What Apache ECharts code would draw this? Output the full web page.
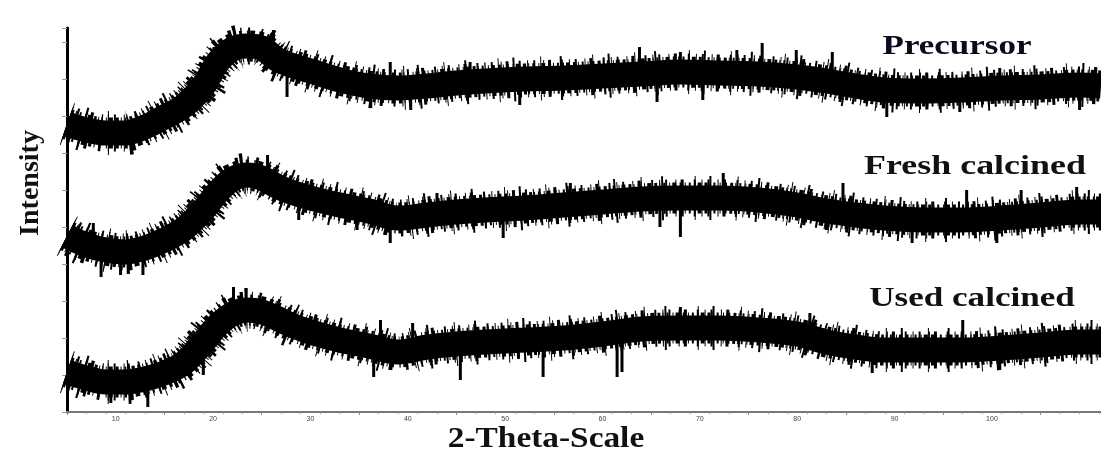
<!DOCTYPE html>
<html>
<head>
<meta charset="utf-8">
<script src="https://cdn.jsdelivr.net/npm/echarts@6/dist/echarts.min.js"></script>
<style>
  html, body { margin: 0; padding: 0; background: #fff; }
  #chart { width: 1101px; height: 455px; }
</style>
</head>
<body>
<div id="chart"></div>
<script>
const twoTheta = [5, 7, 9, 11, 13, 15, 17, 19, 20.5, 22, 23.5, 25, 26.5, 28, 30, 33, 36, 39, 42, 45, 48, 52, 56, 60, 64, 68, 72, 76, 80, 83, 86, 89, 93, 97, 101, 105, 109, 111.2];

// intensity (arbitrary units, traces stacked)
const precursor = [288, 282, 279, 279, 285, 295, 306, 326, 350, 363, 366, 364, 353, 347, 341, 332, 326, 324, 326, 329, 331, 333, 334, 336, 338, 340, 339, 338, 335, 331, 326, 322, 321, 322, 324, 325, 327, 326];
const freshCalcined = [176, 167, 162, 160, 164, 172, 183, 202, 220, 233, 237, 234, 226, 220, 214, 207, 201, 194, 197, 200, 202, 204, 207, 210, 213, 214, 214, 212, 207, 201, 197, 194, 192, 192, 194, 197, 200, 200];
const usedCalcined = [40, 34, 30, 30, 33, 39, 49, 70, 87, 98, 102, 100, 94, 87, 80, 72, 66, 60, 65, 68, 70, 72, 74, 78, 83, 84, 84, 82, 78, 70, 65, 62, 62, 62, 64, 67, 70, 70];

// visible noise spikes: [2theta, from, to]
const precursorSpikes = [
  [20.1, 342, 365], [26.2, 354, 382], [27.6, 347, 315], [36.2, 326, 304], [38.2, 324, 350],
  [40.3, 325, 302], [46.4, 330, 350], [51.5, 333, 307], [63.8, 338, 365], [65.6, 339, 310],
  [68.0, 340, 360], [70.3, 339, 312], [73.8, 339, 362], [76.4, 338, 369], [79.9, 335, 362],
  [83.6, 331, 360], [89.2, 322, 295], [96.7, 322, 300], [100.8, 324, 344], [109, 327, 302]
];
const freshSpikes = [
  [7.7, 167, 189], [8.5, 163, 135], [10.5, 160, 137], [12.8, 163, 137], [25.6, 234, 257],
  [28.8, 221, 192], [34.8, 204, 182], [38.2, 195, 169], [43.0, 198, 219], [49.8, 203, 174],
  [56.7, 207, 229], [65.9, 213, 185], [68.0, 214, 175], [72.4, 214, 239], [83.0, 201, 182],
  [84.7, 199, 229], [91.8, 193, 169], [97.4, 192, 222], [100.5, 193, 169], [103, 195, 222],
  [108.7, 200, 225]
];
const usedSpikes = [
  [9.5, 30, 9], [13.3, 33, 5], [19.0, 70, 37], [22.1, 98, 125], [36.5, 66, 35],
  [37.2, 63, 92], [40.5, 62, 89], [45.4, 68, 32], [53.9, 73, 35], [56.7, 74, 92],
  [61.5, 76, 35], [62.0, 76, 40], [68.0, 84, 105], [81.3, 76, 99], [87.7, 63, 39],
  [97.0, 62, 92], [100.8, 63, 42]
];

const xTicks = [10, 20, 30, 40, 50, 60, 70, 80, 90, 100];

const pair = (vals) => twoTheta.map((t, i) => [t, vals[i]]);

const chart = echarts.init(document.getElementById("chart"));

// solid core plus dashed wider strokes to give the noisy fringe
const layers = [
  { width: 25, dash: null },
  { width: 31, dash: [3, 2, 1, 3, 2, 4, 1, 2, 4, 3] },
  { width: 37, dash: [1, 5, 2, 8, 1, 4, 3, 10, 2, 6] },
  { width: 44, dash: [1, 14, 2, 25, 1, 19, 2, 31] },
];

const trace = (name, vals) =>
  layers.map((l, k) => ({
    name: k === 0 ? name : name + " fringe " + k,
    type: "line",
    data: pair(vals),
    smooth: 0.35,
    symbol: "none",
    silent: k > 0,
    lineStyle: { color: "#000", width: l.width, cap: "butt", type: l.dash || "solid" },
    z: 2,
  }));

const spikes = (name, list) => ({
  name: name + " spikes",
  type: "custom",
  data: list,
  silent: true,
  z: 3,
  renderItem: (params, api) => {
    const a = api.coord([api.value(0), api.value(1)]);
    const b = api.coord([api.value(0), api.value(2)]);
    return {
      type: "line",
      shape: { x1: a[0], y1: a[1], x2: b[0], y2: b[1] },
      style: { stroke: "#000", lineWidth: 3 },
    };
  },
});

const serif = "'Liberation Serif', 'DejaVu Serif', serif";

const option = {
  backgroundColor: "#fff",
  animation: false,
  grid: { left: 67, right: 0, top: 28, bottom: 43, outerBoundsMode: "none" },
  xAxis: [
    {
      type: "value",
      min: 5,
      max: 111.2,
      interval: 10,
      axisLine: { show: true, onZero: false, lineStyle: { color: "#6e6e6e", width: 2 } },
      axisTick: { show: true, length: 3, lineStyle: { color: "#888" } },
      minorTick: { show: true, splitNumber: 5, length: 2, lineStyle: { color: "#999" } },
      splitLine: { show: false },
      axisLabel: {
        fontSize: 7,
        color: "#444",
        margin: 4,
        customValues: xTicks,
      },
    },
    {
      type: "value",
      position: "top",
      min: 5,
      max: 111.2,
      axisLine: { show: true, lineStyle: { color: "#777", width: 2 } },
      axisTick: { show: false },
      axisLabel: { show: false },
      splitLine: { show: false },
    },
  ],
  yAxis: {
    type: "value",
    min: 0,
    max: 384,
    interval: 37,
    axisLine: { show: true, lineStyle: { color: "#000", width: 3 } },
    axisTick: { show: true, length: 5, lineStyle: { color: "#999" } },
    axisLabel: { show: false },
    splitLine: { show: false },
  },
  graphic: [
    {
      type: "text",
      x: 31, y: 183, rotation: Math.PI / 2,
      style: { text: "Intensity", font: "bold 28px " + serif, fill: "#111", align: "center", verticalAlign: "middle" },
    },
    {
      type: "text",
      x: 546, y: 440, scaleX: 1.15,
      style: { text: "2-Theta-Scale", font: "bold 29px " + serif, fill: "#111", align: "center", verticalAlign: "middle" },
    },
    {
      type: "text",
      x: 957, y: 47, scaleX: 1.25,
      style: { text: "Precursor", font: "bold 28px " + serif, fill: "#0b0b1e", align: "center", verticalAlign: "middle" },
    },
    {
      type: "text",
      x: 975, y: 167, scaleX: 1.33,
      style: { text: "Fresh calcined", font: "bold 27px " + serif, fill: "#111", align: "center", verticalAlign: "middle" },
    },
    {
      type: "text",
      x: 972, y: 299, scaleX: 1.3,
      style: { text: "Used calcined", font: "bold 27px " + serif, fill: "#111", align: "center", verticalAlign: "middle" },
    },
  ],
  series: [
    ...trace("Precursor", precursor),
    ...trace("Fresh calcined", freshCalcined),
    ...trace("Used calcined", usedCalcined),
    spikes("Precursor", precursorSpikes),
    spikes("Fresh calcined", freshSpikes),
    spikes("Used calcined", usedSpikes),
  ],
};

chart.setOption(option);
window.addEventListener("resize", () => chart.resize());
</script>
</body>
</html>
